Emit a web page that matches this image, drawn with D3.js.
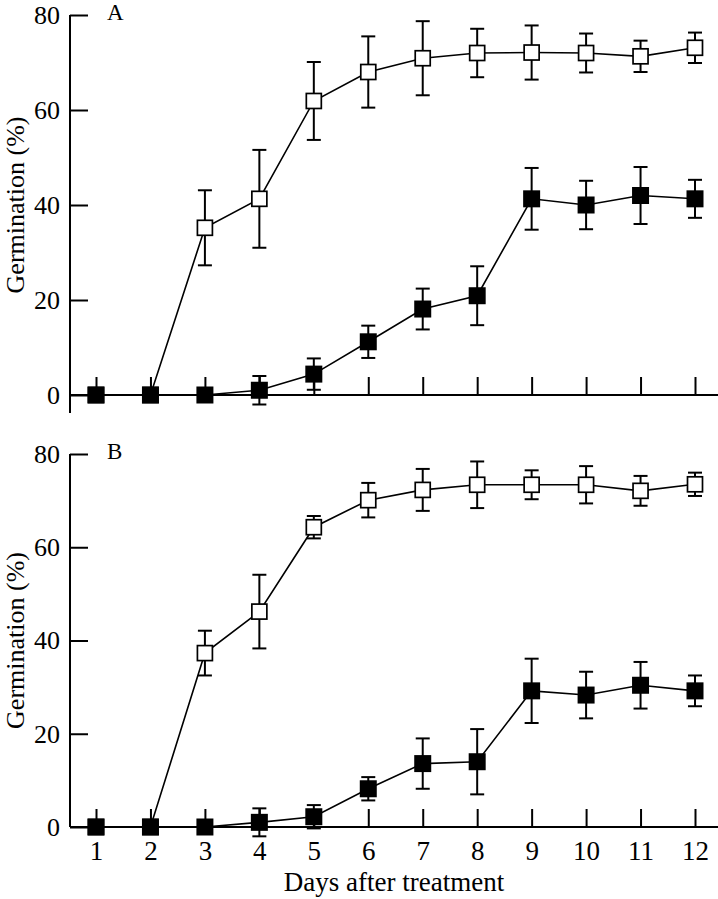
<!DOCTYPE html>
<html>
<head>
<meta charset="utf-8">
<script src="https://cdn.jsdelivr.net/npm/d3@7"></script>
<style>
  html, body { margin: 0; padding: 0; background: #fff; }
  svg { display: block; }
  text { font-family: "Liberation Serif", "Times New Roman", serif; fill: #000; }
</style>
</head>
<body>
<svg id="chart" width="718" height="899"></svg>
<script>
// ---- data ----
const days = [1, 2, 3, 4, 5, 6, 7, 8, 9, 10, 11, 12];
const yTicks = [0, 20, 40, 60, 80];
const panelLabels = ["A", "B"];

// Panel A
const aOpenMean   = [0, 0, 35.2, 41.3, 61.9, 68.0, 70.9, 72.0, 72.1, 72.0, 71.3, 73.1];
const aOpenErr    = [0, 0, 7.9, 10.3, 8.2, 7.5, 7.8, 5.1, 5.7, 4.1, 3.3, 3.2];
const aFilledMean = [0, 0, 0, 1.0, 4.4, 11.2, 18.1, 20.9, 41.3, 40.0, 42.0, 41.3];
const aFilledErr  = [0, 0, 0, 3.0, 3.3, 3.4, 4.3, 6.2, 6.5, 5.1, 6.0, 4.0];

// Panel B
const bOpenMean   = [0, 0, 37.3, 46.2, 64.3, 70.1, 72.3, 73.4, 73.4, 73.4, 72.1, 73.5];
const bOpenErr    = [0, 0, 4.8, 7.9, 2.4, 3.7, 4.5, 5.0, 3.1, 4.0, 3.2, 2.5];
const bFilledMean = [0, 0, 0, 1.0, 2.2, 8.2, 13.6, 14.0, 29.2, 28.3, 30.4, 29.2];
const bFilledErr  = [0, 0, 0, 3.0, 2.5, 2.5, 5.4, 7.0, 6.9, 5.0, 5.0, 3.3];

const xTitle = "Days after treatment";
const yTitle = "Germination (%)";

// ---- layout ----
const svg = d3.select("#chart");
const axisX = 70, rightEdge = 718;
const x = d3.scaleLinear().domain([1, 12]).range([96, 695]);

const panels = [
  { label: panelLabels[0], range: [395, 15], open: aOpenMean, openErr: aOpenErr,
    filled: aFilledMean, filledErr: aFilledErr, showX: false, extendBelow: 18 },
  { label: panelLabels[1], range: [827, 454], open: bOpenMean, openErr: bOpenErr,
    filled: bFilledMean, filledErr: bFilledErr, showX: true, extendBelow: 0 }
];

panels.forEach(p => {
  const y = d3.scaleLinear().domain([0, 80]).range(p.range);
  const g = svg.append("g");

  // y axis
  const yAxis = d3.axisLeft(y).tickValues(yTicks).tickSize(-18).tickSizeOuter(0).tickPadding(10);
  const ya = g.append("g").attr("transform", `translate(${axisX},0)`).call(yAxis);
  ya.select(".domain").remove();
  ya.selectAll(".tick line").attr("stroke", "#000").attr("stroke-width", 2);
  ya.selectAll(".tick text").attr("dy", "0.32em")
    .style("font-size", "26px").style("font-family", "'Liberation Serif', serif").attr("fill", "#000");

  // x axis
  const xAxis = d3.axisBottom(x).tickValues(days).tickSize(-18).tickSizeOuter(0).tickPadding(14)
    .tickFormat(p.showX ? d3.format("d") : () => "");
  const xa = g.append("g").attr("transform", `translate(0,${y(0)})`).call(xAxis);
  xa.select(".domain").remove();
  xa.selectAll(".tick line").attr("stroke", "#000").attr("stroke-width", 2);
  xa.selectAll(".tick text")
    .style("font-size", "27px").style("font-family", "'Liberation Serif', serif").attr("fill", "#000");

  // axis lines
  g.append("line").attr("x1", axisX).attr("x2", axisX)
    .attr("y1", y(80)).attr("y2", y(0) + p.extendBelow)
    .attr("stroke", "#000").attr("stroke-width", 2);
  g.append("line").attr("x1", axisX).attr("x2", rightEdge)
    .attr("y1", y(0)).attr("y2", y(0))
    .attr("stroke", "#000").attr("stroke-width", 2);

  // panel label
  g.append("text").attr("x", 107).attr("y", y(80) + 5)
    .style("font-size", "23px").text(p.label);

  // y title
  const mid = (p.range[0] + p.range[1]) / 2;
  g.append("text").attr("transform", `translate(23.5,${mid}) rotate(-90)`)
    .attr("text-anchor", "middle").style("font-size", "26px").text(yTitle);

  const line = d3.line().x((d, i) => x(days[i])).y(d => y(d));

  function drawSeries(means, errs, filled) {
    const sg = g.append("g");
    sg.append("path").datum(means).attr("d", line)
      .attr("fill", "none").attr("stroke", "#000").attr("stroke-width", 1.6);
    const eb = sg.selectAll(".eb").data(days.map((d, i) => ({ d, m: means[i], e: errs[i] })).filter(o => o.e > 0))
      .enter().append("g");
    eb.append("line").attr("x1", o => x(o.d)).attr("x2", o => x(o.d))
      .attr("y1", o => y(o.m + o.e)).attr("y2", o => y(o.m - o.e))
      .attr("stroke", "#000").attr("stroke-width", 2);
    [1, -1].forEach(s => {
      eb.append("line").attr("x1", o => x(o.d) - 7).attr("x2", o => x(o.d) + 7)
        .attr("y1", o => y(o.m + s * o.e)).attr("y2", o => y(o.m + s * o.e))
        .attr("stroke", "#000").attr("stroke-width", 2);
    });
    const size = filled ? 17 : 15;
    sg.selectAll("rect").data(means).enter().append("rect")
      .attr("x", (d, i) => x(days[i]) - size / 2)
      .attr("y", d => y(d) - size / 2)
      .attr("width", size).attr("height", size)
      .attr("fill", filled ? "#000" : "#fff")
      .attr("stroke", "#000").attr("stroke-width", filled ? 0 : 1.7);
  }

  drawSeries(p.open, p.openErr, false);
  drawSeries(p.filled, p.filledErr, true);

  if (p.showX) {
    g.append("text").attr("x", (axisX + rightEdge) / 2).attr("y", 891)
      .attr("text-anchor", "middle").style("font-size", "27px").text(xTitle);
  }
});
</script>
</body>
</html>
